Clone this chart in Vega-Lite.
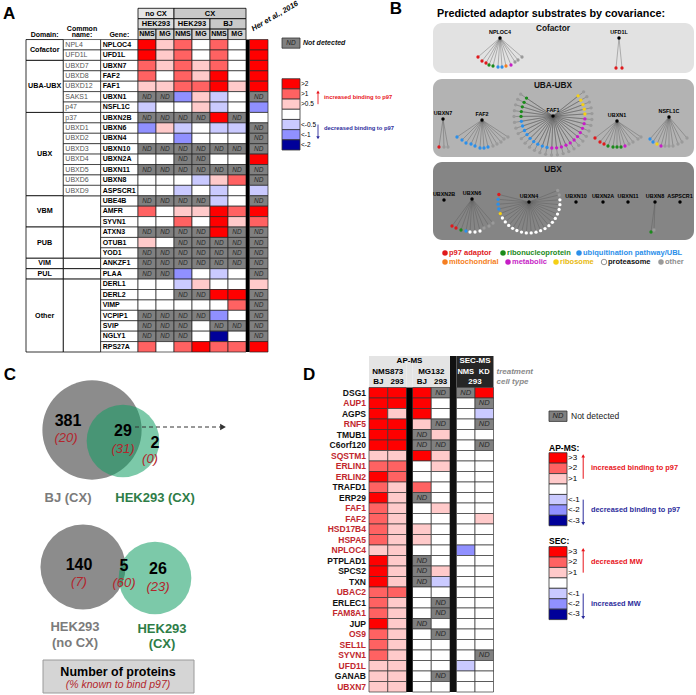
{
"$schema":"https://vega.github.io/schema/vega-lite/v6.json",
"width":696,"height":695,"padding":0,"autosize":{"type":"none"},"background":"white",
"config":{"view":{"stroke":null},"font":"Liberation Sans","axis":{"disable":true},"legend":{"disable":true}},
"datasets":{
"A":[
{"g":"NPLOC4","cn":"NPL4","v1":"p3","v2":"p1","v3":"p2","v4":"z","v5":"p2","v6":"z","her":"p3"},
{"g":"UFD1L","cn":"UFD1L","v1":"p3","v2":"p1","v3":"p2","v4":"z","v5":"p2","v6":"z","her":"p3"},
{"g":"UBXN7","cn":"UBXD7","v1":"p2","v2":"p1","v3":"p2","v4":"p1","v5":"p2","v6":"z","her":"p3"},
{"g":"FAF2","cn":"UBXD8","v1":"p2","v2":"z","v3":"p2","v4":"p1","v5":"p3","v6":"z","her":"p3"},
{"g":"FAF1","cn":"UBXD12","v1":"p1","v2":"p1","v3":"p2","v4":"p2","v5":"p3","v6":"p1","her":"p3"},
{"g":"UBXN1","cn":"SAKS1","v1":"ND","v2":"ND","v3":"n2","v4":"p1","v5":"n1","v6":"z","her":"ND"},
{"g":"NSFL1C","cn":"p47","v1":"n1","v2":"z","v3":"z","v4":"p1","v5":"n1","v6":"z","her":"n2"},
{"g":"UBXN2B","cn":"p37","v1":"ND","v2":"ND","v3":"ND","v4":"ND","v5":"p3","v6":"ND","her":"z"},
{"g":"UBXN6","cn":"UBXD1","v1":"n2","v2":"p1","v3":"n1","v4":"z","v5":"n1","v6":"n1","her":"ND"},
{"g":"UBXN4","cn":"UBXD2","v1":"z","v2":"z","v3":"n2","v4":"z","v5":"z","v6":"z","her":"ND"},
{"g":"UBXN10","cn":"UBXD3","v1":"ND","v2":"ND","v3":"ND","v4":"ND","v5":"ND","v6":"ND","her":"ND"},
{"g":"UBXN2A","cn":"UBXD4","v1":"z","v2":"z","v3":"ND","v4":"ND","v5":"z","v6":"z","her":"p3"},
{"g":"UBXN11","cn":"UBXD5","v1":"ND","v2":"ND","v3":"ND","v4":"ND","v5":"ND","v6":"ND","her":"ND"},
{"g":"UBXN8","cn":"UBXD6","v1":"z","v2":"z","v3":"z","v4":"n1","v5":"p1","v6":"p2","her":"ND"},
{"g":"ASPSCR1","cn":"UBXD9","v1":"z","v2":"z","v3":"n1","v4":"z","v5":"n1","v6":"z","her":"n1"},
{"g":"UBE4B","cn":"","v1":"ND","v2":"ND","v3":"ND","v4":"ND","v5":"n1","v6":"z","her":"ND"},
{"g":"AMFR","cn":"","v1":"p2","v2":"z","v3":"p1","v4":"p1","v5":"p3","v6":"p2","her":"p3"},
{"g":"SYVN1","cn":"","v1":"z","v2":"z","v3":"p2","v4":"z","v5":"p3","v6":"p1","her":"p2"},
{"g":"ATXN3","cn":"","v1":"ND","v2":"ND","v3":"ND","v4":"ND","v5":"p3","v6":"ND","her":"ND"},
{"g":"OTUB1","cn":"","v1":"p1","v2":"z","v3":"ND","v4":"ND","v5":"ND","v6":"ND","her":"ND"},
{"g":"YOD1","cn":"","v1":"ND","v2":"ND","v3":"ND","v4":"ND","v5":"ND","v6":"ND","her":"ND"},
{"g":"ANKZF1","cn":"","v1":"ND","v2":"ND","v3":"ND","v4":"ND","v5":"ND","v6":"ND","her":"ND"},
{"g":"PLAA","cn":"","v1":"ND","v2":"ND","v3":"n2","v4":"z","v5":"n1","v6":"z","her":"ND"},
{"g":"DERL1","cn":"","v1":"z","v2":"z","v3":"n1","v4":"p1","v5":"z","v6":"z","her":"p1"},
{"g":"DERL2","cn":"","v1":"z","v2":"z","v3":"ND","v4":"ND","v5":"p3","v6":"p3","her":"ND"},
{"g":"VIMP","cn":"","v1":"z","v2":"z","v3":"z","v4":"z","v5":"z","v6":"p2","her":"ND"},
{"g":"VCPIP1","cn":"","v1":"ND","v2":"ND","v3":"ND","v4":"ND","v5":"n2","v6":"z","her":"ND"},
{"g":"SVIP","cn":"","v1":"ND","v2":"ND","v3":"ND","v4":"z","v5":"ND","v6":"ND","her":"ND"},
{"g":"NGLY1","cn":"","v1":"ND","v2":"ND","v3":"ND","v4":"z","v5":"n3","v6":"z","her":"ND"},
{"g":"RPS27A","cn":"","v1":"p2","v2":"z","v3":"p2","v4":"p3","v5":"p2","v6":"p2","her":"p3"}
],
"Aspan":[
{"d":"Cofactor","g1":"NPLOC4","g2":"UFD1L","lg":"NPLOC4","edge":true,"nc":false},
{"d":"UBA-UBX","g1":"UBXN7","g2":"NSFL1C","lg":"FAF1","edge":false,"nc":false},
{"d":"UBX","g1":"UBXN2B","g2":"ASPSCR1","lg":"UBXN10","edge":true,"nc":false},
{"d":"VBM","g1":"UBE4B","g2":"SYVN1","lg":"AMFR","edge":false,"nc":true},
{"d":"PUB","g1":"ATXN3","g2":"YOD1","lg":"OTUB1","edge":false,"nc":true},
{"d":"VIM","g1":"ANKZF1","g2":"ANKZF1","lg":"ANKZF1","edge":false,"nc":true},
{"d":"PUL","g1":"PLAA","g2":"PLAA","lg":"PLAA","edge":false,"nc":true},
{"d":"Other","g1":"DERL1","g2":"RPS27A","lg":"VCPIP1","edge":false,"nc":true}
],
"Ahdr":[
{"r":"h1","c1":"v1","c2":"v2","tc":"v1","t":"no CX","k":"a"},
{"r":"h1","c1":"v3","c2":"v6","tc":"v4","t":"CX","k":"b"},
{"r":"h2","c1":"v1","c2":"v2","tc":"v1","t":"HEK293","k":"c"},
{"r":"h2","c1":"v3","c2":"v4","tc":"v3","t":"HEK293","k":"c"},
{"r":"h2","c1":"v5","c2":"v6","tc":"v5","t":"BJ","k":"b"},
{"r":"h3","c1":"v1","c2":"v1","tc":"v1","t":"NMS","k":"d"},
{"r":"h3","c1":"v2","c2":"v2","tc":"v2","t":"MG","k":"d"},
{"r":"h3","c1":"v3","c2":"v3","tc":"v3","t":"NMS","k":"d"},
{"r":"h3","c1":"v4","c2":"v4","tc":"v4","t":"MG","k":"d"},
{"r":"h3","c1":"v5","c2":"v5","tc":"v5","t":"NMS","k":"d"},
{"r":"h3","c1":"v6","c2":"v6","tc":"v6","t":"MG","k":"d"}
],
"LegA":[
{"r":"nd","lv":"ND","lab":""},{"r":"p3","lv":"p3","lab":">2"},{"r":"p2","lv":"p2","lab":">1"},{"r":"p1","lv":"p1","lab":">0.5"},{"r":"z","lv":"z","lab":""},{"r":"n1","lv":"n1","lab":"<-0.5"},{"r":"n2","lv":"n2","lab":"<-1"},{"r":"n3","lv":"n3","lab":"<-2"}
],
"Dd":[
{"g":"DSG1","kn":"other","b1":"p3","b2":"p3","m1":"p3","m2":"ND","e1":"ND","e2":"p3"},
{"g":"AUP1","kn":"known","b1":"p3","b2":"p3","m1":"p3","m2":"z","e1":"z","e2":"ND"},
{"g":"AGPS","kn":"other","b1":"p3","b2":"p1","m1":"p3","m2":"z","e1":"z","e2":"n1"},
{"g":"RNF5","kn":"known","b1":"p3","b2":"p3","m1":"p1","m2":"ND","e1":"z","e2":"ND"},
{"g":"TMUB1","kn":"other","b1":"p3","b2":"p3","m1":"ND","m2":"p1","e1":"z","e2":"z"},
{"g":"C6orf120","kn":"other","b1":"p3","b2":"p3","m1":"ND","m2":"ND","e1":"z","e2":"ND"},
{"g":"SQSTM1","kn":"known","b1":"p1","b2":"p1","m1":"p3","m2":"p1","e1":"z","e2":"z"},
{"g":"ERLIN1","kn":"known","b1":"p2","b2":"p2","m1":"z","m2":"p1","e1":"z","e2":"z"},
{"g":"ERLIN2","kn":"known","b1":"p3","b2":"p2","m1":"z","m2":"z","e1":"z","e2":"z"},
{"g":"TRAFD1","kn":"other","b1":"p2","b2":"p1","m1":"p2","m2":"z","e1":"z","e2":"z"},
{"g":"ERP29","kn":"other","b1":"p3","b2":"p1","m1":"ND","m2":"z","e1":"z","e2":"z"},
{"g":"FAF1","kn":"known","b1":"p2","b2":"p1","m1":"z","m2":"p1","e1":"z","e2":"z"},
{"g":"FAF2","kn":"known","b1":"p2","b2":"p1","m1":"z","m2":"z","e1":"z","e2":"p1"},
{"g":"HSD17B4","kn":"known","b1":"p2","b2":"p1","m1":"p1","m2":"z","e1":"z","e2":"z"},
{"g":"HSPA5","kn":"known","b1":"p2","b2":"p1","m1":"p1","m2":"z","e1":"z","e2":"z"},
{"g":"NPLOC4","kn":"known","b1":"p1","b2":"p1","m1":"z","m2":"z","e1":"n2","e2":"z"},
{"g":"PTPLAD1","kn":"other","b1":"p3","b2":"p1","m1":"ND","m2":"z","e1":"z","e2":"z"},
{"g":"SPCS2","kn":"other","b1":"p3","b2":"p1","m1":"ND","m2":"p1","e1":"z","e2":"z"},
{"g":"TXN","kn":"other","b1":"p3","b2":"p1","m1":"ND","m2":"n1","e1":"z","e2":"z"},
{"g":"UBAC2","kn":"known","b1":"p2","b2":"p2","m1":"z","m2":"z","e1":"z","e2":"z"},
{"g":"ERLEC1","kn":"other","b1":"p2","b2":"p1","m1":"z","m2":"ND","e1":"z","e2":"z"},
{"g":"FAM8A1","kn":"known","b1":"p2","b2":"p1","m1":"z","m2":"ND","e1":"z","e2":"z"},
{"g":"JUP","kn":"other","b1":"p3","b2":"p1","m1":"ND","m2":"z","e1":"z","e2":"z"},
{"g":"OS9","kn":"known","b1":"p2","b2":"p1","m1":"z","m2":"ND","e1":"z","e2":"z"},
{"g":"SEL1L","kn":"known","b1":"p2","b2":"p1","m1":"z","m2":"z","e1":"z","e2":"z"},
{"g":"SYVN1","kn":"known","b1":"p2","b2":"p1","m1":"z","m2":"z","e1":"z","e2":"ND"},
{"g":"UFD1L","kn":"known","b1":"p1","b2":"p1","m1":"z","m2":"z","e1":"n1","e2":"z"},
{"g":"GANAB","kn":"other","b1":"p1","b2":"p1","m1":"z","m2":"ND","e1":"z","e2":"z"},
{"g":"UBXN7","kn":"known","b1":"p1","b2":"p1","m1":"z","m2":"z","e1":"z","e2":"z"}
],
"Dhdr":[
{"t":"AP-MS","grp":"s1","c":"s","r":"h1","sp":false},
{"t":"NMS873","grp":"n","c":"b1","r":"h2","sp":true},
{"t":"BJ","grp":"n","c":"b1","r":"h3","sp":false},
{"t":"293","grp":"n","c":"b2","r":"h3","sp":false},
{"t":"MG132","grp":"m","c":"m1","r":"h2","sp":true},
{"t":"BJ","grp":"m","c":"m1","r":"h3","sp":false},
{"t":"293","grp":"m","c":"m2","r":"h3","sp":false},
{"t":"SEC-MS","grp":"e","c":"e1","r":"h1","sp":true},
{"t":"NMS","grp":"e","c":"e1","r":"h2","sp":false},
{"t":"KD","grp":"e","c":"e2","r":"h2","sp":false},
{"t":"293","grp":"e","c":"e1","r":"h3","sp":true},
{"t":"treatment","grp":"note","c":"e2","r":"h2","sp":false},
{"t":"cell type","grp":"note","c":"e2","r":"h3","sp":false}
],
"LegD":[
{"r":"nd","lv":"ND","lab":""},
{"r":"a3","lv":"p3","lab":">3"},{"r":"a2","lv":"p2","lab":">2"},{"r":"a1","lv":"p1","lab":">1"},{"r":"az","lv":"z","lab":""},{"r":"an1","lv":"n1","lab":"<-1"},{"r":"an2","lv":"n2","lab":"<-2"},{"r":"an3","lv":"n3","lab":"<-3"},
{"r":"s3","lv":"p3","lab":">3"},{"r":"s2","lv":"p2","lab":">2"},{"r":"s1","lv":"p1","lab":">1"},{"r":"sz","lv":"z","lab":""},{"r":"sn1","lv":"n1","lab":"<-1"},{"r":"sn2","lv":"n2","lab":"<-2"},{"r":"sn3","lv":"n3","lab":"<-3"}
],
"Bhub":[
{"h":"NPLOC4","hx":70,"hy":18},{"h":"UFD1L","hx":189,"hy":18},{"h":"UBXN7","hx":13,"hy":99},{"h":"FAF2","hx":52,"hy":100},{"h":"FAF1","hx":123,"hy":96},{"h":"UBXN1","hx":187,"hy":101},{"h":"NSFL1C","hx":239,"hy":97},{"h":"UBXN2B","hx":14,"hy":180},{"h":"UBXN6","hx":42,"hy":179},{"h":"UBXN4","hx":99,"hy":182},{"h":"UBXN10","hx":146,"hy":182},{"h":"UBXN2A","hx":173,"hy":182},{"h":"UBXN11","hx":198,"hy":182},{"h":"UBXN8","hx":225,"hy":182},{"h":"ASPSCR1","hx":250,"hy":182}
],
"Blf":[
{"h":"NPLOC4","x":48,"y":37,"c":"adaptor"},{"h":"NPLOC4","x":52,"y":41,"c":"adaptor"},{"h":"NPLOC4","x":56,"y":43,"c":"adaptor"},{"h":"NPLOC4","x":59,"y":45,"c":"rnp"},{"h":"NPLOC4","x":63,"y":46,"c":"rnp"},{"h":"NPLOC4","x":68,"y":47,"c":"ubl"},{"h":"NPLOC4","x":72,"y":47,"c":"ubl"},{"h":"NPLOC4","x":76,"y":46,"c":"mito"},{"h":"NPLOC4","x":81,"y":45,"c":"metab"},{"h":"NPLOC4","x":85,"y":42,"c":"other"},{"h":"NPLOC4","x":88,"y":40,"c":"other"},{"h":"NPLOC4","x":92,"y":37,"c":"other"},
{"h":"UFD1L","x":186,"y":48,"c":"adaptor"},{"h":"UFD1L","x":192,"y":48,"c":"adaptor"},
{"h":"UBXN7","x":9,"y":127,"c":"adaptor"},{"h":"UBXN7","x":14,"y":127,"c":"other"},{"h":"UBXN7","x":18,"y":127,"c":"other"},
{"h":"FAF2","x":27,"y":117,"c":"ubl"},{"h":"FAF2","x":32,"y":120,"c":"ubl"},{"h":"FAF2","x":36,"y":123,"c":"ubl"},{"h":"FAF2","x":41,"y":124,"c":"ubl"},{"h":"FAF2","x":45,"y":126,"c":"ubl"},{"h":"FAF2","x":50,"y":128,"c":"ubl"},{"h":"FAF2","x":54,"y":128,"c":"ubl"},{"h":"FAF2","x":58,"y":127,"c":"ubl"},{"h":"FAF2","x":63,"y":126,"c":"other"},{"h":"FAF2","x":67,"y":124,"c":"other"},{"h":"FAF2","x":71,"y":122,"c":"other"},{"h":"FAF2","x":74,"y":119,"c":"other"},{"h":"FAF2","x":78,"y":117,"c":"other"},
{"h":"FAF1","x":90.7,"y":74.2,"c":"other"},{"h":"FAF1","x":87.7,"y":79.3,"c":"other"},{"h":"FAF1","x":85.6,"y":84.8,"c":"other"},{"h":"FAF1","x":84.4,"y":90.7,"c":"other"},{"h":"FAF1","x":84.0,"y":96.5,"c":"other"},{"h":"FAF1","x":84.5,"y":102.4,"c":"other"},{"h":"FAF1","x":85.9,"y":108.2,"c":"other"},{"h":"FAF1","x":88.2,"y":113.6,"c":"other"},{"h":"FAF1","x":91.3,"y":118.7,"c":"other"},{"h":"FAF1","x":95.1,"y":123.2,"c":"other"},{"h":"FAF1","x":99.5,"y":127.2,"c":"other"},{"h":"FAF1","x":104.5,"y":130.3,"c":"other"},{"h":"FAF1","x":109.9,"y":132.7,"c":"other"},{"h":"FAF1","x":115.6,"y":134.3,"c":"other"},{"h":"FAF1","x":121.5,"y":135.0,"c":"other"},{"h":"FAF1","x":127.4,"y":134.8,"c":"other"},{"h":"FAF1","x":133.2,"y":133.6,"c":"other"},{"h":"FAF1","x":138.8,"y":131.6,"c":"other"},{"h":"FAF1","x":144.0,"y":128.8,"c":"other"},{"h":"FAF1","x":148.7,"y":125.3,"c":"other"},{"h":"FAF1","x":152.9,"y":121.1,"c":"other"},{"h":"FAF1","x":156.3,"y":116.3,"c":"other"},{"h":"FAF1","x":159.0,"y":111.0,"c":"other"},{"h":"FAF1","x":160.9,"y":105.4,"c":"other"},{"h":"FAF1","x":161.8,"y":99.5,"c":"other"},{"h":"FAF1","x":161.9,"y":93.6,"c":"other"},{"h":"FAF1","x":161.1,"y":87.8,"c":"other"},{"h":"FAF1","x":159.4,"y":82.1,"c":"other"},{"h":"FAF1","x":156.9,"y":76.7,"c":"other"},{"h":"FAF1","x":153.6,"y":71.8,"c":"other"},
{"h":"FAF1","x":96.5,"y":78.1,"c":"rnp"},{"h":"FAF1","x":94.1,"y":82.3,"c":"rnp"},{"h":"FAF1","x":92.3,"y":86.8,"c":"rnp"},{"h":"FAF1","x":91.3,"y":91.6,"c":"rnp"},{"h":"FAF1","x":91.0,"y":96.4,"c":"rnp"},{"h":"FAF1","x":91.4,"y":101.3,"c":"ubl"},{"h":"FAF1","x":92.6,"y":106.0,"c":"ubl"},{"h":"FAF1","x":94.5,"y":110.5,"c":"ubl"},{"h":"FAF1","x":97.0,"y":114.6,"c":"ubl"},{"h":"FAF1","x":100.1,"y":118.3,"c":"ubl"},{"h":"FAF1","x":103.7,"y":121.6,"c":"ubl"},{"h":"FAF1","x":107.8,"y":124.2,"c":"ubl"},{"h":"FAF1","x":112.3,"y":126.1,"c":"ubl"},{"h":"FAF1","x":117.0,"y":127.4,"c":"ubl"},{"h":"FAF1","x":121.8,"y":128.0,"c":"metab"},{"h":"FAF1","x":126.6,"y":127.8,"c":"metab"},{"h":"FAF1","x":131.4,"y":126.9,"c":"metab"},{"h":"FAF1","x":136.0,"y":125.2,"c":"metab"},{"h":"FAF1","x":140.2,"y":122.9,"c":"metab"},{"h":"FAF1","x":144.1,"y":120.0,"c":"metab"},{"h":"FAF1","x":147.5,"y":116.6,"c":"metab"},{"h":"FAF1","x":150.3,"y":112.6,"c":"metab"},{"h":"FAF1","x":152.5,"y":108.3,"c":"metab"},{"h":"FAF1","x":154.1,"y":103.7,"c":"metab"},{"h":"FAF1","x":154.9,"y":98.9,"c":"metab"},{"h":"FAF1","x":154.9,"y":94.0,"c":"ribo"},{"h":"FAF1","x":154.3,"y":89.2,"c":"ribo"},{"h":"FAF1","x":152.9,"y":84.6,"c":"ribo"},{"h":"FAF1","x":150.8,"y":80.2,"c":"ribo"},{"h":"FAF1","x":148.1,"y":75.8,"c":"ribo"},
{"h":"UBXN1","x":165,"y":118,"c":"adaptor"},{"h":"UBXN1","x":170,"y":122,"c":"adaptor"},{"h":"UBXN1","x":174,"y":124,"c":"adaptor"},{"h":"UBXN1","x":178,"y":126,"c":"rnp"},{"h":"UBXN1","x":183,"y":127,"c":"rnp"},{"h":"UBXN1","x":187,"y":127,"c":"rnp"},{"h":"UBXN1","x":191,"y":127,"c":"rnp"},{"h":"UBXN1","x":195,"y":126,"c":"metab"},{"h":"UBXN1","x":199,"y":124,"c":"other"},{"h":"UBXN1","x":203,"y":122,"c":"other"},{"h":"UBXN1","x":208,"y":119,"c":"other"},{"h":"UBXN1","x":211,"y":117,"c":"other"},
{"h":"NSFL1C","x":220,"y":119,"c":"ubl"},{"h":"NSFL1C","x":223,"y":122,"c":"ubl"},{"h":"NSFL1C","x":227,"y":124,"c":"ribo"},{"h":"NSFL1C","x":231,"y":126,"c":"metab"},{"h":"NSFL1C","x":235,"y":126,"c":"other"},{"h":"NSFL1C","x":239,"y":126,"c":"other"},{"h":"NSFL1C","x":243,"y":126,"c":"other"},{"h":"NSFL1C","x":248,"y":124,"c":"other"},{"h":"NSFL1C","x":252,"y":122,"c":"other"},{"h":"NSFL1C","x":257,"y":118,"c":"other"},
{"h":"UBXN6","x":22,"y":206,"c":"adaptor"},{"h":"UBXN6","x":26,"y":208,"c":"adaptor"},{"h":"UBXN6","x":31,"y":210,"c":"rnp"},{"h":"UBXN6","x":36,"y":211,"c":"ubl"},{"h":"UBXN6","x":40,"y":212,"c":"prot"},{"h":"UBXN6","x":45,"y":212,"c":"prot"},{"h":"UBXN6","x":50,"y":211,"c":"prot"},{"h":"UBXN6","x":54,"y":208,"c":"other"},{"h":"UBXN6","x":59,"y":206,"c":"other"},{"h":"UBXN6","x":63,"y":203,"c":"other"},
{"h":"UBXN4","x":68.9,"y":174.5,"c":"adaptor"},{"h":"UBXN4","x":68.1,"y":179.3,"c":"ubl"},{"h":"UBXN4","x":68.1,"y":184.2,"c":"ubl"},{"h":"UBXN4","x":68.8,"y":189.0,"c":"ubl"},{"h":"UBXN4","x":70.3,"y":193.6,"c":"ribo"},{"h":"UBXN4","x":72.4,"y":198.0,"c":"prot"},{"h":"UBXN4","x":75.3,"y":201.9,"c":"prot"},{"h":"UBXN4","x":78.7,"y":205.4,"c":"prot"},{"h":"UBXN4","x":82.6,"y":208.3,"c":"prot"},{"h":"UBXN4","x":86.9,"y":210.5,"c":"prot"},{"h":"UBXN4","x":91.5,"y":212.1,"c":"prot"},{"h":"UBXN4","x":96.3,"y":212.9,"c":"prot"},{"h":"UBXN4","x":101.2,"y":212.9,"c":"prot"},{"h":"UBXN4","x":106.0,"y":212.2,"c":"prot"},{"h":"UBXN4","x":110.6,"y":210.7,"c":"prot"},{"h":"UBXN4","x":115.0,"y":208.6,"c":"prot"},{"h":"UBXN4","x":118.9,"y":205.7,"c":"prot"},{"h":"UBXN4","x":122.4,"y":202.3,"c":"prot"},{"h":"UBXN4","x":125.3,"y":198.4,"c":"prot"},{"h":"UBXN4","x":127.5,"y":194.1,"c":"prot"},{"h":"UBXN4","x":129.1,"y":189.5,"c":"prot"},{"h":"UBXN4","x":129.9,"y":184.7,"c":"prot"},{"h":"UBXN4","x":129.9,"y":179.8,"c":"prot"},{"h":"UBXN4","x":129.2,"y":175.0,"c":"other"},{"h":"UBXN4","x":127.7,"y":170.4,"c":"other"},
{"h":"UBXN8","x":221,"y":212,"c":"rnp"},{"h":"UBXN8","x":224,"y":210,"c":"other"}
],
"Bbox":[
{"n":"Cofactor","x1":3,"x2":264,"y1":3,"y2":53,"tx":123,"ty":9},
{"n":"UBA-UBX","x1":3,"x2":264,"y1":59,"y2":137,"tx":123,"ty":66},
{"n":"UBX","x1":3,"x2":264,"y1":142,"y2":220,"tx":123,"ty":150}
],
"Bleg":[
{"c":"adaptor","lab":"p97 adaptor","x":15,"y":233},{"c":"rnp","lab":"ribonucleoprotein","x":73,"y":233},{"c":"ubl","lab":"ubiquitination pathway/UBL","x":149,"y":233},
{"c":"mito","lab":"mitochondrial","x":15,"y":242},{"c":"metab","lab":"metabolic","x":78,"y":242},{"c":"ribo","lab":"ribosome","x":126,"y":242},{"c":"prot","lab":"proteasome","x":174,"y":242},{"c":"other","lab":"other","x":231,"y":242}
],
"Cc":[
{"s":"BJ (CX)","x":92,"y":70,"r":56,"g":"gray"},
{"s":"HEK293 (CX)","x":123,"y":81,"r":41,"g":"green"},
{"s":"HEK293 (no CX)","x":83,"y":207,"r":48,"g":"gray"},
{"s":"HEK293 (CX) 2","x":155,"y":218,"r":41,"g":"green"}
],
"Ct":[
{"t":"381","x":68,"y":61,"k":"n"},{"t":"(20)","x":66,"y":78,"k":"p"},
{"t":"29","x":123,"y":71,"k":"n"},{"t":"(31)","x":123,"y":89,"k":"p"},
{"t":"2","x":155,"y":83,"k":"n"},{"t":"(0)","x":150,"y":99,"k":"p"},
{"t":"BJ (CX)","x":68,"y":138,"k":"a"},{"t":"HEK293 (CX)","x":155,"y":138,"k":"b"},
{"t":"140","x":79,"y":205,"k":"n"},{"t":"(7)","x":79,"y":222,"k":"p"},
{"t":"5","x":124,"y":206,"k":"n"},{"t":"(60)","x":124,"y":223,"k":"p"},
{"t":"26","x":158,"y":209,"k":"n"},{"t":"(23)","x":158,"y":227,"k":"p"},
{"t":"HEK293","x":75,"y":267,"k":"a"},{"t":"(no CX)","x":75,"y":283,"k":"a"},
{"t":"HEK293","x":162,"y":269,"k":"b"},{"t":"(CX)","x":162,"y":284,"k":"b"},
{"t":"Number of proteins","x":118,"y":312,"k":"bt"},{"t":"(% known to bind p97)","x":118,"y":325,"k":"bp"},
{"t":"C","x":10,"y":15,"k":"L"}
]
},
"resolve":{"scale":{"x":"independent","y":"independent","color":"independent","size":"independent","shape":"independent","opacity":"independent"}},
"layer":[
{"layer":[
 {"data":{"name":"Aspan"},"mark":{"type":"rect","fill":"#ffffff","stroke":"#000000","strokeWidth":0.8},
  "encoding":{"x":{"datum":"dom","scale":{"type":"band","domain":["dom","com","gene"],"range":[26,138],"padding":0}},
   "y":{"field":"g1","type":"nominal","bandPosition":0,"scale":{"type":"band","domain":["h1","h2","h3","NPLOC4","UFD1L","UBXN7","FAF2","FAF1","UBXN1","NSFL1C","UBXN2B","UBXN6","UBXN4","UBXN10","UBXN2A","UBXN11","UBXN8","ASPSCR1","UBE4B","AMFR","SYVN1","ATXN3","OTUB1","YOD1","ANKZF1","PLAA","DERL1","DERL2","VIMP","VCPIP1","SVIP","NGLY1","RPS27A"],"range":[8.3,352],"padding":0}},
   "y2":{"field":"g2","bandPosition":1}}},
 {"data":{"name":"Aspan"},"transform":[{"filter":"datum.nc"}],"mark":{"type":"rect","fill":"#ffffff","stroke":"#000000","strokeWidth":0.8},
  "encoding":{"x":{"datum":"com"},"y":{"field":"g1","type":"nominal","bandPosition":0},"y2":{"field":"g2","bandPosition":1}}},
 {"data":{"name":"A"},"transform":[{"filter":"datum.cn != ''"}],"mark":{"type":"rect","fill":"#ffffff","stroke":"#000000","strokeWidth":0.6},
  "encoding":{"x":{"datum":"com"},"y":{"field":"g","type":"nominal"}}},
 {"data":{"name":"A"},"mark":{"type":"rect","fill":"#ffffff","stroke":"#000000","strokeWidth":0.6},
  "encoding":{"x":{"datum":"gene"},"y":{"field":"g","type":"nominal"}}},
 {"data":{"name":"Aspan"},"transform":[{"filter":"!datum.edge"}],"mark":{"type":"text","fontWeight":"bold","fontSize":7.2,"fill":"#000000"},
  "encoding":{"x":{"datum":"dom"},"y":{"field":"lg","type":"nominal"},"text":{"field":"d"}}},
 {"data":{"name":"Aspan"},"transform":[{"filter":"datum.edge"}],"mark":{"type":"text","fontWeight":"bold","fontSize":7.2,"fill":"#000000"},
  "encoding":{"x":{"datum":"dom"},"y":{"field":"lg","type":"nominal","bandPosition":1},"text":{"field":"d"}}},
 {"data":{"name":"A"},"mark":{"type":"text","align":"left","dx":2,"fontSize":7,"fill":"#555555"},
  "encoding":{"x":{"datum":"com","bandPosition":0},"y":{"field":"g","type":"nominal"},"text":{"field":"cn"}}},
 {"data":{"name":"A"},"mark":{"type":"text","align":"left","dx":2,"fontSize":7,"fontWeight":"bold","fill":"#000000"},
  "encoding":{"x":{"datum":"gene","bandPosition":0},"y":{"field":"g","type":"nominal"},"text":{"field":"g"}}},
 {"data":{"values":[{"c":"dom","t":"Domain:"},{"c":"com","t":"name:"},{"c":"gene","t":"Gene:"}]},"mark":{"type":"text","fontWeight":"bold","fontSize":7,"baseline":"alphabetic","fill":"#000000"},
  "encoding":{"x":{"field":"c","type":"nominal"},"y":{"datum":"h3","bandPosition":0.8},"text":{"field":"t"}}},
 {"data":{"values":[{"c":"com","t":"Common"}]},"mark":{"type":"text","fontWeight":"bold","fontSize":7,"baseline":"alphabetic","fill":"#000000"},
  "encoding":{"x":{"field":"c","type":"nominal"},"y":{"datum":"h3","bandPosition":0.2},"text":{"field":"t"}}},
 {"data":{"values":[{"t":"A"}]},"mark":{"type":"text","align":"left","dx":-23,"fontWeight":"bold","fontSize":17,"fill":"#000000"},
  "encoding":{"x":{"datum":"dom","bandPosition":0},"y":{"datum":"h1","bandPosition":0.5},"text":{"field":"t"}}}
]},
{"resolve":{"scale":{"color":"independent"}},"layer":[
 {"data":{"name":"Ahdr"},"mark":{"type":"rect","stroke":"#000000","strokeWidth":0.8},
  "encoding":{"x":{"field":"c1","type":"nominal","bandPosition":0,"scale":{"type":"band","domain":["v1","v2","v3","v4","v5","v6"],"range":[138,246],"padding":0}},"x2":{"field":"c2","bandPosition":1},
   "y":{"field":"r","type":"nominal","scale":{"type":"band","domain":["h1","h2","h3","NPLOC4","UFD1L","UBXN7","FAF2","FAF1","UBXN1","NSFL1C","UBXN2B","UBXN6","UBXN4","UBXN10","UBXN2A","UBXN11","UBXN8","ASPSCR1","UBE4B","AMFR","SYVN1","ATXN3","OTUB1","YOD1","ANKZF1","PLAA","DERL1","DERL2","VIMP","VCPIP1","SVIP","NGLY1","RPS27A"],"range":[8.3,352],"padding":0}},
   "color":{"field":"k","type":"nominal","scale":{"domain":["a","b","c","d"],"range":["#e6e6e6","#c9c9c9","#dddddd","#d3d3d3"]}}}},
 {"data":{"name":"Ahdr"},"transform":[{"filter":"datum.r != 'h3'"}],"mark":{"type":"text","fontWeight":"bold","fontSize":7.5,"fill":"#000000"},
  "encoding":{"x":{"field":"tc","type":"nominal","bandPosition":1},"y":{"field":"r","type":"nominal"},"text":{"field":"t"}}},
 {"data":{"name":"Ahdr"},"transform":[{"filter":"datum.r == 'h3'"}],"mark":{"type":"text","fontWeight":"bold","fontSize":7,"fill":"#000000"},
  "encoding":{"x":{"field":"c1","type":"nominal"},"y":{"field":"r","type":"nominal"},"text":{"field":"t"}}},
 {"data":{"name":"A"},"transform":[{"fold":["v1","v2","v3","v4","v5","v6"],"as":["col","lv"]}],"mark":{"type":"rect","stroke":"#222222","strokeWidth":0.7},
  "encoding":{"x":{"field":"col","type":"nominal"},"y":{"field":"g","type":"nominal"},
   "color":{"field":"lv","type":"nominal","scale":{"domain":["p3","p2","p1","z","n1","n2","n3","ND"],"range":["#ff0000","#ff6262","#ffcaca","#ffffff","#cacaff","#9090ff","#000099","#808080"]}}}},
 {"data":{"name":"A"},"transform":[{"fold":["v1","v2","v3","v4","v5","v6"],"as":["col","lv"]},{"filter":"datum.lv == 'ND'"}],"mark":{"type":"text","fontStyle":"italic","fontSize":6.5,"fill":"#2a2a2a"},
  "encoding":{"x":{"field":"col","type":"nominal"},"y":{"field":"g","type":"nominal"},"text":{"field":"lv"}}}
]},
{"data":{"values":[{}]},"mark":{"type":"rect","color":"#000000"},
 "encoding":{"x":{"datum":"sep","scale":{"type":"band","domain":["sep"],"range":[246,249.5],"padding":0}},
  "y":{"datum":"NPLOC4","bandPosition":0,"scale":{"type":"band","domain":["h1","h2","h3","NPLOC4","UFD1L","UBXN7","FAF2","FAF1","UBXN1","NSFL1C","UBXN2B","UBXN6","UBXN4","UBXN10","UBXN2A","UBXN11","UBXN8","ASPSCR1","UBE4B","AMFR","SYVN1","ATXN3","OTUB1","YOD1","ANKZF1","PLAA","DERL1","DERL2","VIMP","VCPIP1","SVIP","NGLY1","RPS27A"],"range":[8.3,352],"padding":0}},
  "y2":{"datum":"RPS27A","bandPosition":1}}},
{"layer":[
 {"data":{"name":"A"},"mark":{"type":"rect","stroke":"#222222","strokeWidth":0.7},
  "encoding":{"x":{"datum":"her","scale":{"type":"band","domain":["her"],"range":[249.5,268],"padding":0}},
   "y":{"field":"g","type":"nominal","scale":{"type":"band","domain":["h1","h2","h3","NPLOC4","UFD1L","UBXN7","FAF2","FAF1","UBXN1","NSFL1C","UBXN2B","UBXN6","UBXN4","UBXN10","UBXN2A","UBXN11","UBXN8","ASPSCR1","UBE4B","AMFR","SYVN1","ATXN3","OTUB1","YOD1","ANKZF1","PLAA","DERL1","DERL2","VIMP","VCPIP1","SVIP","NGLY1","RPS27A"],"range":[8.3,352],"padding":0}},
   "color":{"field":"her","type":"nominal","scale":{"domain":["p3","p2","p1","z","n1","n2","n3","ND"],"range":["#ff0000","#ff6262","#ffcaca","#ffffff","#cacaff","#9090ff","#000099","#808080"]}}}},
 {"data":{"name":"A"},"transform":[{"filter":"datum.her == 'ND'"}],"mark":{"type":"text","fontStyle":"italic","fontSize":6.5,"fill":"#2a2a2a"},
  "encoding":{"x":{"datum":"her"},"y":{"field":"g","type":"nominal"},"text":{"field":"her"}}},
 {"data":{"values":[{"t":"Her et al., 2016"}]},"mark":{"type":"text","align":"left","baseline":"alphabetic","angle":-30,"fontStyle":"italic","fontWeight":"bold","fontSize":7.5,"fill":"#000000"},
  "encoding":{"x":{"datum":"her","bandPosition":0.2},"y":{"datum":"h3","bandPosition":0.2},"text":{"field":"t"}}}
]},
{"resolve":{"scale":{"color":"independent"}},"layer":[
 {"data":{"name":"LegA"},"mark":{"type":"rect","stroke":"#333333","strokeWidth":0.8},
  "encoding":{"x":{"datum":"box","scale":{"type":"band","domain":["box","lab"],"range":[282,318],"padding":0}},
   "y":{"field":"r","type":"nominal","scale":{"type":"band","domain":["nd","g1","g2","g3","p3","p2","p1","z","n1","n2","n3"],"range":[38,150],"padding":0}},
   "color":{"field":"lv","type":"nominal","scale":{"domain":["p3","p2","p1","z","n1","n2","n3","ND"],"range":["#ff0000","#ff6262","#ffcaca","#ffffff","#cacaff","#9090ff","#000099","#808080"]}}}},
 {"data":{"name":"LegA"},"transform":[{"filter":"datum.lab != ''"}],"mark":{"type":"text","align":"left","dx":1,"fontSize":6.5,"fill":"#000000"},
  "encoding":{"x":{"datum":"lab","bandPosition":0},"y":{"field":"r","type":"nominal"},"text":{"field":"lab"}}},
 {"data":{"values":[{"t":"ND"}]},"mark":{"type":"text","fontStyle":"italic","fontSize":6.5,"fill":"#222222"},
  "encoding":{"x":{"datum":"box"},"y":{"datum":"nd"},"text":{"field":"t"}}},
 {"data":{"values":[{"t":"Not detected"}]},"mark":{"type":"text","align":"left","dx":3,"fontStyle":"italic","fontWeight":"bold","fontSize":7,"fill":"#111111"},
  "encoding":{"x":{"datum":"lab","bandPosition":0},"y":{"datum":"nd"},"text":{"field":"t"}}},
 {"data":{"values":[{"f":"p1","t":"p2"}]},"mark":{"type":"rule","color":"#e8141b","strokeWidth":0.9},
  "encoding":{"x":{"datum":"lab","bandPosition":1},"y":{"field":"f","type":"nominal"},"y2":{"field":"t","bandPosition":0.3}}},
 {"data":{"values":[{"t":"p2"}]},"mark":{"type":"point","shape":"triangle-up","filled":true,"size":12,"color":"#e8141b","opacity":1},
  "encoding":{"x":{"datum":"lab","bandPosition":1},"y":{"field":"t","type":"nominal","bandPosition":0.3}}},
 {"data":{"values":[{"f":"n1","t":"n2"}]},"mark":{"type":"rule","color":"#2c2c9c","strokeWidth":0.9},
  "encoding":{"x":{"datum":"lab","bandPosition":1},"y":{"field":"f","type":"nominal"},"y2":{"field":"t","bandPosition":0.8}}},
 {"data":{"values":[{"t":"n2"}]},"mark":{"type":"point","shape":"triangle-down","filled":true,"size":12,"color":"#2c2c9c","opacity":1},
  "encoding":{"x":{"datum":"lab","bandPosition":1},"y":{"field":"t","type":"nominal","bandPosition":0.8}}},
 {"data":{"values":[{"t":"increased binding to p97","r":"p2","d":"up"},{"t":"decreased binding to p97","r":"n1","d":"down"}]},"mark":{"type":"text","align":"left","dx":6,"fontWeight":"bold","fontSize":5.8},
  "encoding":{"x":{"datum":"lab","bandPosition":1},"y":{"field":"r","type":"nominal","bandPosition":0.8},"text":{"field":"t"},
   "color":{"field":"d","type":"nominal","scale":{"domain":["up","down"],"range":["#e8141b","#2c2c9c"]}}}}
]},
{"resolve":{"scale":{"color":"independent"}},"layer":[
 {"data":{"name":"Bbox"},"mark":{"type":"rect","cornerRadius":9},
  "encoding":{"x":{"field":"x1","type":"quantitative","scale":{"type":"linear","domain":[-40,266],"range":[390,696],"zero":false,"nice":false}},"x2":{"field":"x2"},
   "y":{"field":"y1","type":"quantitative","scale":{"type":"linear","domain":[-20,250],"range":[0,270],"zero":false,"nice":false}},"y2":{"field":"y2"},
   "color":{"field":"n","type":"nominal","scale":{"domain":["Cofactor","UBA-UBX","UBX"],"range":["#e2e2e2","#b3b3b3","#858585"]}}}},
 {"data":{"name":"Bbox"},"mark":{"type":"text","fontWeight":"bold","fontSize":8.3,"fill":"#111111"},
  "encoding":{"x":{"field":"tx","type":"quantitative"},"y":{"field":"ty","type":"quantitative"},"text":{"field":"n"}}},
 {"data":{"name":"Blf"},"transform":[{"lookup":"h","from":{"data":{"name":"Bhub"},"key":"h","fields":["hx","hy"]}}],"mark":{"type":"rule","color":"#555555","strokeWidth":0.4},
  "encoding":{"x":{"field":"hx","type":"quantitative"},"y":{"field":"hy","type":"quantitative"},"x2":{"field":"x"},"y2":{"field":"y"}}},
 {"data":{"name":"Blf"},"mark":{"type":"point","filled":true,"size":11,"opacity":1},
  "encoding":{"x":{"field":"x","type":"quantitative"},"y":{"field":"y","type":"quantitative"},
   "color":{"field":"c","type":"nominal","scale":{"domain":["adaptor","rnp","ubl","mito","metab","ribo","prot","other"],"range":["#e0191c","#1b8a1b","#2b8fea","#f57e21","#c61ec6","#f5d015","#ffffff","#9a9a9a"]}}}},
 {"data":{"name":"Bhub"},"mark":{"type":"point","filled":true,"size":12,"color":"#000000","opacity":1},
  "encoding":{"x":{"field":"hx","type":"quantitative"},"y":{"field":"hy","type":"quantitative"}}},
 {"data":{"name":"Bhub"},"mark":{"type":"text","dy":-6,"fontWeight":"bold","fontSize":5.4,"fill":"#000000"},
  "encoding":{"x":{"field":"hx","type":"quantitative"},"y":{"field":"hy","type":"quantitative"},"text":{"field":"h"}}},
 {"data":{"name":"Bleg"},"transform":[{"filter":"datum.c != 'prot'"}],"mark":{"type":"point","filled":true,"size":30,"opacity":1},
  "encoding":{"x":{"field":"x","type":"quantitative"},"y":{"field":"y","type":"quantitative"},
   "color":{"field":"c","type":"nominal","scale":{"domain":["adaptor","rnp","ubl","mito","metab","ribo","prot","other"],"range":["#e0191c","#1b8a1b","#2b8fea","#f57e21","#c61ec6","#f5d015","#ffffff","#9a9a9a"]}}}},
 {"data":{"name":"Bleg"},"transform":[{"filter":"datum.c == 'prot'"}],"mark":{"type":"point","filled":false,"size":30,"color":"#666666","strokeWidth":0.7,"opacity":1},
  "encoding":{"x":{"field":"x","type":"quantitative"},"y":{"field":"y","type":"quantitative"}}},
 {"data":{"name":"Bleg"},"mark":{"type":"text","align":"left","dx":4,"fontWeight":"bold","fontSize":7.5},
  "encoding":{"x":{"field":"x","type":"quantitative"},"y":{"field":"y","type":"quantitative"},"text":{"field":"lab"},
   "color":{"field":"c","type":"nominal","scale":{"domain":["adaptor","rnp","ubl","mito","metab","ribo","prot","other"],"range":["#e0191c","#1b8a1b","#2b8fea","#f57e21","#c61ec6","#e8b90c","#111111","#8c8c8c"]}}}},
 {"data":{"values":[{"t":"Predicted adaptor substrates by covariance:"}]},"mark":{"type":"text","align":"left","fontWeight":"bold","fontSize":10.8,"fill":"#000000"},
  "encoding":{"x":{"datum":7,"type":"quantitative"},"y":{"datum":-6,"type":"quantitative"},"text":{"field":"t"}}},
 {"data":{"values":[{"t":"B"}]},"mark":{"type":"text","fontWeight":"bold","fontSize":17,"fill":"#000000"},
  "encoding":{"x":{"datum":-34,"type":"quantitative"},"y":{"datum":-11,"type":"quantitative"},"text":{"field":"t"}}}
]},
{"layer":[
 {"data":{"name":"Cc"},"transform":[{"filter":"datum.g == 'gray'"}],"mark":{"type":"point","filled":true,"color":"#8c8c8c","opacity":1},
  "encoding":{"x":{"field":"x","type":"quantitative","scale":{"type":"linear","domain":[0,240],"range":[0,240],"zero":false,"nice":false}},
   "y":{"field":"y","type":"quantitative","scale":{"type":"linear","domain":[0,335],"range":[360,695],"zero":false,"nice":false}},
   "size":{"field":"r","type":"quantitative","scale":{"type":"pow","exponent":2,"domain":[0,60],"range":[0,11310]}}}},
 {"data":{"name":"Cc"},"transform":[{"filter":"datum.g == 'green'"}],"mark":{"type":"point","filled":true,"color":"#119d62","opacity":0.55},
  "encoding":{"x":{"field":"x","type":"quantitative"},"y":{"field":"y","type":"quantitative"},"size":{"field":"r","type":"quantitative"}}},
 {"data":{"values":[{}]},"mark":{"type":"rect","fill":"#d5d5d5","stroke":"#9a9a9a","strokeWidth":1},
  "encoding":{"x":{"datum":43,"type":"quantitative"},"x2":{"datum":194},"y":{"datum":300,"type":"quantitative"},"y2":{"datum":333}}},
 {"data":{"values":[{}]},"mark":{"type":"rule","color":"#333333","strokeWidth":1,"strokeDash":[4,3]},
  "encoding":{"x":{"datum":135,"type":"quantitative"},"x2":{"datum":220},"y":{"datum":67,"type":"quantitative"}}},
 {"data":{"values":[{}]},"mark":{"type":"point","shape":"triangle-right","filled":true,"size":45,"color":"#333333","opacity":1},
  "encoding":{"x":{"datum":223,"type":"quantitative"},"y":{"datum":67,"type":"quantitative"}}},
 {"data":{"name":"Ct"},"transform":[{"filter":"datum.k == 'n'"}],"mark":{"type":"text","fontWeight":"bold","fontSize":16,"fill":"#000000"},
  "encoding":{"x":{"field":"x","type":"quantitative"},"y":{"field":"y","type":"quantitative"},"text":{"field":"t"}}},
 {"data":{"name":"Ct"},"transform":[{"filter":"datum.k == 'p'"}],"mark":{"type":"text","fontStyle":"italic","fontSize":13,"fill":"#b3262c"},
  "encoding":{"x":{"field":"x","type":"quantitative"},"y":{"field":"y","type":"quantitative"},"text":{"field":"t"}}},
 {"data":{"name":"Ct"},"transform":[{"filter":"datum.k == 'a'"}],"mark":{"type":"text","fontWeight":"bold","fontSize":13,"fill":"#7b7b7b"},
  "encoding":{"x":{"field":"x","type":"quantitative"},"y":{"field":"y","type":"quantitative"},"text":{"field":"t"}}},
 {"data":{"name":"Ct"},"transform":[{"filter":"datum.k == 'b'"}],"mark":{"type":"text","fontWeight":"bold","fontSize":13,"fill":"#2e7d47"},
  "encoding":{"x":{"field":"x","type":"quantitative"},"y":{"field":"y","type":"quantitative"},"text":{"field":"t"}}},
 {"data":{"name":"Ct"},"transform":[{"filter":"datum.k == 'bt'"}],"mark":{"type":"text","fontWeight":"bold","fontSize":12.5,"fill":"#000000"},
  "encoding":{"x":{"field":"x","type":"quantitative"},"y":{"field":"y","type":"quantitative"},"text":{"field":"t"}}},
 {"data":{"name":"Ct"},"transform":[{"filter":"datum.k == 'bp'"}],"mark":{"type":"text","fontStyle":"italic","fontSize":10.5,"fill":"#b3262c"},
  "encoding":{"x":{"field":"x","type":"quantitative"},"y":{"field":"y","type":"quantitative"},"text":{"field":"t"}}},
 {"data":{"name":"Ct"},"transform":[{"filter":"datum.k == 'L'"}],"mark":{"type":"text","fontWeight":"bold","fontSize":17,"fill":"#000000"},
  "encoding":{"x":{"field":"x","type":"quantitative"},"y":{"field":"y","type":"quantitative"},"text":{"field":"t"}}}
]},
{"resolve":{"scale":{"color":"independent"}},"layer":[
 {"data":{"values":[{}]},"mark":{"type":"rect","color":"#e4e4e4"},
  "encoding":{"x":{"datum":"b1","bandPosition":0,"scale":{"type":"band","domain":["b1","b2"],"range":[369,406.5],"padding":0}},"x2":{"datum":"b2","bandPosition":1},
   "y":{"datum":"h1","bandPosition":0,"scale":{"type":"band","domain":["h1","h2","h3","DSG1","AUP1","AGPS","RNF5","TMUB1","C6orf120","SQSTM1","ERLIN1","ERLIN2","TRAFD1","ERP29","FAF1","FAF2","HSD17B4","HSPA5","NPLOC4","PTPLAD1","SPCS2","TXN","UBAC2","ERLEC1","FAM8A1","JUP","OS9","SEL1L","SYVN1","UFD1L","GANAB","UBXN7"],"range":[356,692],"padding":0}},"y2":{"datum":"h3","bandPosition":1}}},
 {"data":{"name":"Dhdr"},"transform":[{"filter":"datum.grp == 'n' && datum.sp"}],"mark":{"type":"text","fontWeight":"bold","fontSize":8,"fill":"#000000"},
  "encoding":{"x":{"field":"c","type":"nominal","bandPosition":1},"y":{"field":"r","type":"nominal"},"text":{"field":"t"}}},
 {"data":{"name":"Dhdr"},"transform":[{"filter":"datum.grp == 'n' && !datum.sp"}],"mark":{"type":"text","fontWeight":"bold","fontSize":8,"fill":"#000000"},
  "encoding":{"x":{"field":"c","type":"nominal"},"y":{"field":"r","type":"nominal"},"text":{"field":"t"}}},
 {"data":{"name":"Dd"},"transform":[{"fold":["b1","b2"],"as":["col","lv"]}],"mark":{"type":"rect","stroke":"#333333","strokeWidth":0.7},
  "encoding":{"x":{"field":"col","type":"nominal"},"y":{"field":"g","type":"nominal"},
   "color":{"field":"lv","type":"nominal","scale":{"domain":["p3","p2","p1","z","n1","n2","n3","ND"],"range":["#ff0000","#ff6262","#ffcaca","#ffffff","#cacaff","#9090ff","#000099","#808080"]}}}},
 {"data":{"name":"Dd"},"transform":[{"fold":["b1","b2"],"as":["col","lv"]},{"filter":"datum.lv == 'ND'"}],"mark":{"type":"text","fontStyle":"italic","fontSize":7.5,"fill":"#2a2a2a"},
  "encoding":{"x":{"field":"col","type":"nominal"},"y":{"field":"g","type":"nominal"},"text":{"field":"lv"}}},
 {"data":{"name":"Dd"},"mark":{"type":"text","align":"right","dx":-3,"fontWeight":"bold","fontSize":8.5},
  "encoding":{"x":{"datum":"b1","bandPosition":0},"y":{"field":"g","type":"nominal"},"text":{"field":"g"},
   "color":{"field":"kn","type":"nominal","scale":{"domain":["known","other"],"range":["#c1272d","#111111"]}}}},
 {"data":{"values":[{"t":"D"}]},"mark":{"type":"text","align":"left","dx":-66,"fontWeight":"bold","fontSize":17,"fill":"#000000"},
  "encoding":{"x":{"datum":"b1","bandPosition":0},"y":{"datum":"h2","bandPosition":0.8},"text":{"field":"t"}}}
]},
{"resolve":{"scale":{"color":"independent"}},"layer":[
 {"data":{"values":[{}]},"mark":{"type":"rect","color":"#e4e4e4"},
  "encoding":{"x":{"datum":"m1","bandPosition":0,"scale":{"type":"band","domain":["m1","m2"],"range":[412.5,450],"padding":0}},"x2":{"datum":"m2","bandPosition":1},
   "y":{"datum":"h1","bandPosition":0,"scale":{"type":"band","domain":["h1","h2","h3","DSG1","AUP1","AGPS","RNF5","TMUB1","C6orf120","SQSTM1","ERLIN1","ERLIN2","TRAFD1","ERP29","FAF1","FAF2","HSD17B4","HSPA5","NPLOC4","PTPLAD1","SPCS2","TXN","UBAC2","ERLEC1","FAM8A1","JUP","OS9","SEL1L","SYVN1","UFD1L","GANAB","UBXN7"],"range":[356,692],"padding":0}},"y2":{"datum":"h3","bandPosition":1}}},
 {"data":{"name":"Dhdr"},"transform":[{"filter":"datum.grp == 'm' && datum.sp"}],"mark":{"type":"text","fontWeight":"bold","fontSize":8,"fill":"#000000"},
  "encoding":{"x":{"field":"c","type":"nominal","bandPosition":1},"y":{"field":"r","type":"nominal"},"text":{"field":"t"}}},
 {"data":{"name":"Dhdr"},"transform":[{"filter":"datum.grp == 'm' && !datum.sp"}],"mark":{"type":"text","fontWeight":"bold","fontSize":8,"fill":"#000000"},
  "encoding":{"x":{"field":"c","type":"nominal"},"y":{"field":"r","type":"nominal"},"text":{"field":"t"}}},
 {"data":{"name":"Dd"},"transform":[{"fold":["m1","m2"],"as":["col","lv"]}],"mark":{"type":"rect","stroke":"#333333","strokeWidth":0.7},
  "encoding":{"x":{"field":"col","type":"nominal"},"y":{"field":"g","type":"nominal"},
   "color":{"field":"lv","type":"nominal","scale":{"domain":["p3","p2","p1","z","n1","n2","n3","ND"],"range":["#ff0000","#ff6262","#ffcaca","#ffffff","#cacaff","#9090ff","#000099","#808080"]}}}},
 {"data":{"name":"Dd"},"transform":[{"fold":["m1","m2"],"as":["col","lv"]},{"filter":"datum.lv == 'ND'"}],"mark":{"type":"text","fontStyle":"italic","fontSize":7.5,"fill":"#2a2a2a"},
  "encoding":{"x":{"field":"col","type":"nominal"},"y":{"field":"g","type":"nominal"},"text":{"field":"lv"}}}
]},
{"layer":[
 {"data":{"values":[{}]},"mark":{"type":"rect","color":"#e4e4e4"},
  "encoding":{"x":{"datum":"s","scale":{"type":"band","domain":["s"],"range":[406.5,412.5],"padding":0}},
   "y":{"datum":"h1","bandPosition":0,"scale":{"type":"band","domain":["h1","h2","h3","DSG1","AUP1","AGPS","RNF5","TMUB1","C6orf120","SQSTM1","ERLIN1","ERLIN2","TRAFD1","ERP29","FAF1","FAF2","HSD17B4","HSPA5","NPLOC4","PTPLAD1","SPCS2","TXN","UBAC2","ERLEC1","FAM8A1","JUP","OS9","SEL1L","SYVN1","UFD1L","GANAB","UBXN7"],"range":[356,692],"padding":0}},"y2":{"datum":"h3","bandPosition":1}}},
 {"data":{"values":[{}]},"mark":{"type":"rect","color":"#000000"},
  "encoding":{"x":{"datum":"s"},"y":{"datum":"DSG1","bandPosition":0},"y2":{"datum":"UBXN7","bandPosition":1}}},
 {"data":{"name":"Dhdr"},"transform":[{"filter":"datum.grp == 's1'"}],"mark":{"type":"text","fontWeight":"bold","fontSize":8,"fill":"#000000"},
  "encoding":{"x":{"field":"c","type":"nominal"},"y":{"field":"r","type":"nominal"},"text":{"field":"t"}}}
]},
{"data":{"values":[{}]},"mark":{"type":"rect","color":"#111111"},
 "encoding":{"x":{"datum":"s","scale":{"type":"band","domain":["s"],"range":[450,456.5],"padding":0}},
  "y":{"datum":"h1","bandPosition":0,"scale":{"type":"band","domain":["h1","h2","h3","DSG1","AUP1","AGPS","RNF5","TMUB1","C6orf120","SQSTM1","ERLIN1","ERLIN2","TRAFD1","ERP29","FAF1","FAF2","HSD17B4","HSPA5","NPLOC4","PTPLAD1","SPCS2","TXN","UBAC2","ERLEC1","FAM8A1","JUP","OS9","SEL1L","SYVN1","UFD1L","GANAB","UBXN7"],"range":[356,692],"padding":0}},
  "y2":{"datum":"UBXN7","bandPosition":1}}},
{"resolve":{"scale":{"color":"independent"}},"layer":[
 {"data":{"values":[{}]},"mark":{"type":"rect","color":"#262626"},
  "encoding":{"x":{"datum":"e1","bandPosition":0,"scale":{"type":"band","domain":["e1","e2"],"range":[456.5,493.5],"padding":0}},"x2":{"datum":"e2","bandPosition":1},
   "y":{"datum":"h1","bandPosition":0,"scale":{"type":"band","domain":["h1","h2","h3","DSG1","AUP1","AGPS","RNF5","TMUB1","C6orf120","SQSTM1","ERLIN1","ERLIN2","TRAFD1","ERP29","FAF1","FAF2","HSD17B4","HSPA5","NPLOC4","PTPLAD1","SPCS2","TXN","UBAC2","ERLEC1","FAM8A1","JUP","OS9","SEL1L","SYVN1","UFD1L","GANAB","UBXN7"],"range":[356,692],"padding":0}},"y2":{"datum":"h3","bandPosition":1}}},
 {"data":{"name":"Dhdr"},"transform":[{"filter":"datum.grp == 'e' && datum.sp"}],"mark":{"type":"text","fontWeight":"bold","fontSize":8,"fill":"#ffffff"},
  "encoding":{"x":{"field":"c","type":"nominal","bandPosition":1},"y":{"field":"r","type":"nominal"},"text":{"field":"t"}}},
 {"data":{"name":"Dhdr"},"transform":[{"filter":"datum.grp == 'e' && !datum.sp"}],"mark":{"type":"text","fontWeight":"bold","fontSize":7.5,"fill":"#ffffff"},
  "encoding":{"x":{"field":"c","type":"nominal"},"y":{"field":"r","type":"nominal"},"text":{"field":"t"}}},
 {"data":{"name":"Dhdr"},"transform":[{"filter":"datum.grp == 'note'"}],"mark":{"type":"text","align":"left","dx":3,"fontStyle":"italic","fontWeight":"bold","fontSize":8,"fill":"#8a8a8a"},
  "encoding":{"x":{"field":"c","type":"nominal","bandPosition":1},"y":{"field":"r","type":"nominal"},"text":{"field":"t"}}},
 {"data":{"name":"Dd"},"transform":[{"fold":["e1","e2"],"as":["col","lv"]}],"mark":{"type":"rect","stroke":"#333333","strokeWidth":0.7},
  "encoding":{"x":{"field":"col","type":"nominal"},"y":{"field":"g","type":"nominal"},
   "color":{"field":"lv","type":"nominal","scale":{"domain":["p3","p2","p1","z","n1","n2","n3","ND"],"range":["#ff0000","#ff6262","#ffcaca","#ffffff","#cacaff","#9090ff","#000099","#808080"]}}}},
 {"data":{"name":"Dd"},"transform":[{"fold":["e1","e2"],"as":["col","lv"]},{"filter":"datum.lv == 'ND'"}],"mark":{"type":"text","fontStyle":"italic","fontSize":7.5,"fill":"#2a2a2a"},
  "encoding":{"x":{"field":"col","type":"nominal"},"y":{"field":"g","type":"nominal"},"text":{"field":"lv"}}}
]},
{"resolve":{"scale":{"color":"independent"}},"layer":[
 {"data":{"name":"LegD"},"mark":{"type":"rect","stroke":"#333333","strokeWidth":0.8},
  "encoding":{"x":{"datum":"box","scale":{"type":"band","domain":["box","lab"],"range":[549,585],"padding":0}},
   "y":{"field":"r","type":"nominal","scale":{"type":"band","domain":["nd","g1","g2","t1","a3","a2","a1","az","an1","an2","an3","g3","t2","s3","s2","s1","sz","sn1","sn2","sn3"],"range":[411,619.6],"padding":0}},
   "color":{"field":"lv","type":"nominal","scale":{"domain":["p3","p2","p1","z","n1","n2","n3","ND"],"range":["#ff0000","#ff6262","#ffcaca","#ffffff","#cacaff","#9090ff","#000099","#808080"]}}}},
 {"data":{"name":"LegD"},"transform":[{"filter":"datum.lab != ''"}],"mark":{"type":"text","align":"left","dx":1,"fontSize":8,"fill":"#000000"},
  "encoding":{"x":{"datum":"lab","bandPosition":0},"y":{"field":"r","type":"nominal"},"text":{"field":"lab"}}},
 {"data":{"values":[{"t":"ND"}]},"mark":{"type":"text","fontStyle":"italic","fontSize":7.5,"fill":"#222222"},
  "encoding":{"x":{"datum":"box"},"y":{"datum":"nd"},"text":{"field":"t"}}},
 {"data":{"values":[{"t":"Not detected"}]},"mark":{"type":"text","align":"left","dx":4,"fontSize":8.5,"fill":"#222222"},
  "encoding":{"x":{"datum":"lab","bandPosition":0},"y":{"datum":"nd"},"text":{"field":"t"}}},
 {"data":{"values":[{"t":"AP-MS:","r":"t1"},{"t":"SEC:","r":"t2"}]},"mark":{"type":"text","align":"left","fontWeight":"bold","fontSize":8.5,"fill":"#000000"},
  "encoding":{"x":{"datum":"box","bandPosition":0},"y":{"field":"r","type":"nominal"},"text":{"field":"t"}}},
 {"data":{"values":[{"f":"a1","t":"a3"},{"f":"s1","t":"s3"}]},"mark":{"type":"rule","color":"#e8141b","strokeWidth":1},
  "encoding":{"x":{"datum":"lab","bandPosition":0.9},"y":{"field":"f","type":"nominal"},"y2":{"field":"t","bandPosition":0.3}}},
 {"data":{"values":[{"t":"a3"},{"t":"s3"}]},"mark":{"type":"point","shape":"triangle-up","filled":true,"size":14,"color":"#e8141b","opacity":1},
  "encoding":{"x":{"datum":"lab","bandPosition":0.9},"y":{"field":"t","type":"nominal","bandPosition":0.3}}},
 {"data":{"values":[{"f":"an1","t":"an3"},{"f":"sn1","t":"sn3"}]},"mark":{"type":"rule","color":"#2c2c9c","strokeWidth":1},
  "encoding":{"x":{"datum":"lab","bandPosition":0.9},"y":{"field":"f","type":"nominal"},"y2":{"field":"t","bandPosition":0.8}}},
 {"data":{"values":[{"t":"an3"},{"t":"sn3"}]},"mark":{"type":"point","shape":"triangle-down","filled":true,"size":14,"color":"#2c2c9c","opacity":1},
  "encoding":{"x":{"datum":"lab","bandPosition":0.9},"y":{"field":"t","type":"nominal","bandPosition":0.8}}},
 {"data":{"values":[{"t":"increased binding to p97","r":"a2","d":"up"},{"t":"decreased binding to p97","r":"an2","d":"down"},{"t":"decreased MW","r":"s2","d":"up"},{"t":"increased MW","r":"sn2","d":"down"}]},"mark":{"type":"text","align":"left","dx":6,"fontWeight":"bold","fontSize":7.4},
  "encoding":{"x":{"datum":"lab","bandPosition":1},"y":{"field":"r","type":"nominal"},"text":{"field":"t"},
   "color":{"field":"d","type":"nominal","scale":{"domain":["up","down"],"range":["#e8141b","#2c2c9c"]}}}}
]}
]
}
